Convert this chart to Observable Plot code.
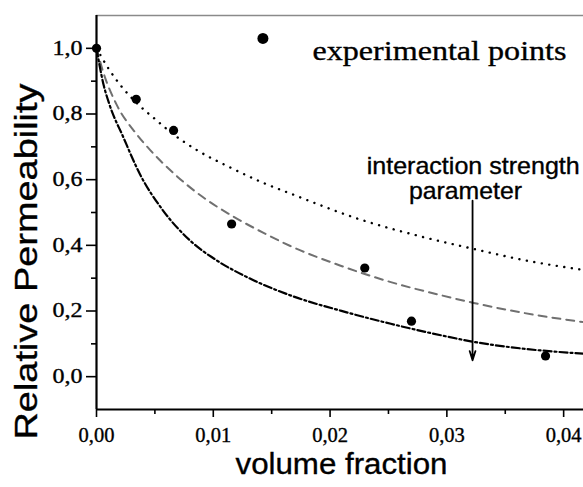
<!DOCTYPE html>
<html>
<head>
<meta charset="utf-8">
<script src="https://cdn.jsdelivr.net/npm/d3@7"></script>
<script src="https://cdn.jsdelivr.net/npm/@observablehq/plot@0.6"></script>
<style>
  html, body { margin: 0; padding: 0; background: #fff; }
</style>
</head>
<body>
<div id="chart"></div>
<script>
// Experimental points
const expX = [0, 0.0034, 0.0066, 0.01157, 0.02297, 0.02697, 0.03845];
const expY = [1.0, 0.845, 0.75, 0.465, 0.331, 0.169, 0.063];

// Model curve: weak interaction (dotted)
const dotX = [0, 0.001, 0.002, 0.0034, 0.005, 0.0067, 0.0086, 0.0114, 0.0143, 0.0168, 0.0223, 0.028, 0.0323, 0.0366, 0.0417];
const dotY = [1.0, 0.94, 0.89, 0.835, 0.785, 0.735, 0.69, 0.638, 0.59, 0.555, 0.482, 0.425, 0.389, 0.355, 0.325];

// Model curve: medium interaction (dashed, gray)
const dashX = [0, 0.0006, 0.0017, 0.0034, 0.0046, 0.0069, 0.0091, 0.0117, 0.0143, 0.0166, 0.0209, 0.0252, 0.0295, 0.0323, 0.0366, 0.0417];
const dashY = [1.0, 0.925, 0.83, 0.74, 0.69, 0.61, 0.547, 0.488, 0.438, 0.398, 0.338, 0.288, 0.248, 0.2245, 0.194, 0.166];

// Model curve: strong interaction (dash-dot)
const ddX = [0, 0.0006, 0.0011, 0.0023, 0.0037, 0.0057, 0.008, 0.0103, 0.0129, 0.0168, 0.0209, 0.0252, 0.0295, 0.0323, 0.0366, 0.0417];
const ddY = [1.0, 0.89, 0.83, 0.729, 0.618, 0.506, 0.415, 0.354, 0.303, 0.245, 0.201, 0.161, 0.126, 0.106, 0.085, 0.07];

// Ticks
const xMajor = [0, 0.01, 0.02, 0.03, 0.04];
const xMinor = [0.005, 0.015, 0.025, 0.035];
const yMajor = [0, 0.2, 0.4, 0.6, 0.8, 1.0];
const yMinor = [0.1, 0.3, 0.5, 0.7, 0.9];

// Annotation arrow ("interaction strength parameter")
const arrowX = [0.0322];
const arrowFrom = [0.536];
const arrowTo = [0.05];

// Legend marker position
const legendX = [0.01425];
const legendY = [1.03];

const toRows = (xs, ys) => xs.map((x, i) => ({x, y: ys[i]}));
const dec = (d, n) => d.toFixed(n).replace(".", ",");

const serif = "'Liberation Serif', 'Times New Roman', serif";
const sans = "'Liberation Sans', Arial, sans-serif";

const plot = Plot.plot({
  width: 583,
  height: 487,
  marginLeft: 96,
  marginRight: 0,
  marginTop: 15,
  marginBottom: 78,
  style: {fontFamily: serif, fontSize: "19px", color: "black", background: "white"},
  x: {domain: [0, 0.0417], axis: null},
  y: {domain: [-0.1, 1.1], axis: null},
  marks: [
    Plot.ruleY([1.1], {stroke: "#8a8a8a", strokeWidth: 1.3}),
    Plot.axisY(yMajor, {tickSize: 10, tickPadding: 4, strokeWidth: 1.6, tickFormat: d => dec(d, 1), fontFamily: serif, fontSize: 20, label: null}),
    Plot.axisY(yMinor, {tickSize: 5, strokeWidth: 1.6, tickFormat: () => "", label: null}),
    Plot.axisX(xMajor, {tickSize: 8, tickPadding: 10, strokeWidth: 1.6, tickFormat: d => dec(d, 2), fontFamily: serif, fontSize: 20.5, label: null}),
    Plot.axisX(xMinor, {tickSize: 5, strokeWidth: 1.6, tickFormat: () => "", label: null}),
    Plot.ruleX([0], {strokeWidth: 2.2}),
    Plot.ruleY([-0.1], {strokeWidth: 2.2}),
    Plot.line(toRows(dotX, dotY), {x: "x", y: "y", curve: "monotone-x", stroke: "black", strokeWidth: 2.4, strokeDasharray: "0.1,7.5", strokeLinecap: "round"}),
    Plot.line(toRows(dashX, dashY), {x: "x", y: "y", curve: "monotone-x", stroke: "#707070", strokeWidth: 2, strokeDasharray: "8,6"}),
    Plot.line(toRows(ddX, ddY), {x: "x", y: "y", curve: "monotone-x", stroke: "black", strokeWidth: 2.2, strokeDasharray: "8,3,2,3"}),
    Plot.arrow(arrowX.map((x, i) => ({x, y1: arrowFrom[i], y2: arrowTo[i]})), {x1: "x", x2: "x", y1: "y1", y2: "y2", stroke: "black", strokeWidth: 1.8, headLength: 8, headAngle: 35}),
    Plot.dot(toRows(expX, expY), {x: "x", y: "y", r: 4.6, fill: "black", stroke: null}),
    Plot.dot(toRows(legendX, legendY), {x: "x", y: "y", r: 5.5, fill: "black", stroke: null}),
    Plot.text(["experimental points"], {frameAnchor: "top-left", dx: 216, dy: 25, textAnchor: "start", fontFamily: serif, fontSize: 28, fill: "black"}),
    Plot.text(["interaction strength"], {frameAnchor: "top-left", dx: 376.7, dy: 141, textAnchor: "middle", fontFamily: sans, fontSize: 24, fill: "black"}),
    Plot.text(["parameter"], {frameAnchor: "top-left", dx: 369, dy: 166.5, textAnchor: "middle", fontFamily: sans, fontSize: 24, fill: "black"}),
    Plot.text(["volume fraction"], {frameAnchor: "bottom", dx: 1.5, dy: 64.4, textAnchor: "middle", fontFamily: sans, fontSize: 30, fill: "black"}),
    Plot.text(["Relative Permeability"], {frameAnchor: "left", dx: -69, dy: 49, rotate: -90, textAnchor: "middle", fontFamily: sans, fontSize: 31, fill: "black"})
  ]
});

document.getElementById("chart").appendChild(plot);

// Match the font sizes, weight and stretched glyph widths of the original figure
const lengths = {
  "experimental points": 254,
  "interaction strength": 213,
  "parameter": 113,
  "volume fraction": 212,
  "Relative Permeability": 356
};
plot.querySelectorAll("text").forEach(t => {
  const s = t.textContent;
  let L = lengths[s];
  if (/^\d,\d+$/.test(s)) {
    const fs = /^\d,\d$/.test(s) ? 20 : 20.5;
    t.setAttribute("font-size", fs);
    t.style.fontSize = fs + "px";
    t.setAttribute("font-family", serif);
    t.style.fontFamily = serif;
    t.setAttribute("fill", "black");
    if (/^\d,\d$/.test(s)) L = 30;
  }
  if (s) {
    t.style.stroke = "black";
    t.style.strokeWidth = "0.35px";
  }
  if (L != null) {
    t.setAttribute("textLength", L);
    t.setAttribute("lengthAdjust", "spacingAndGlyphs");
  }
});
</script>
</body>
</html>
